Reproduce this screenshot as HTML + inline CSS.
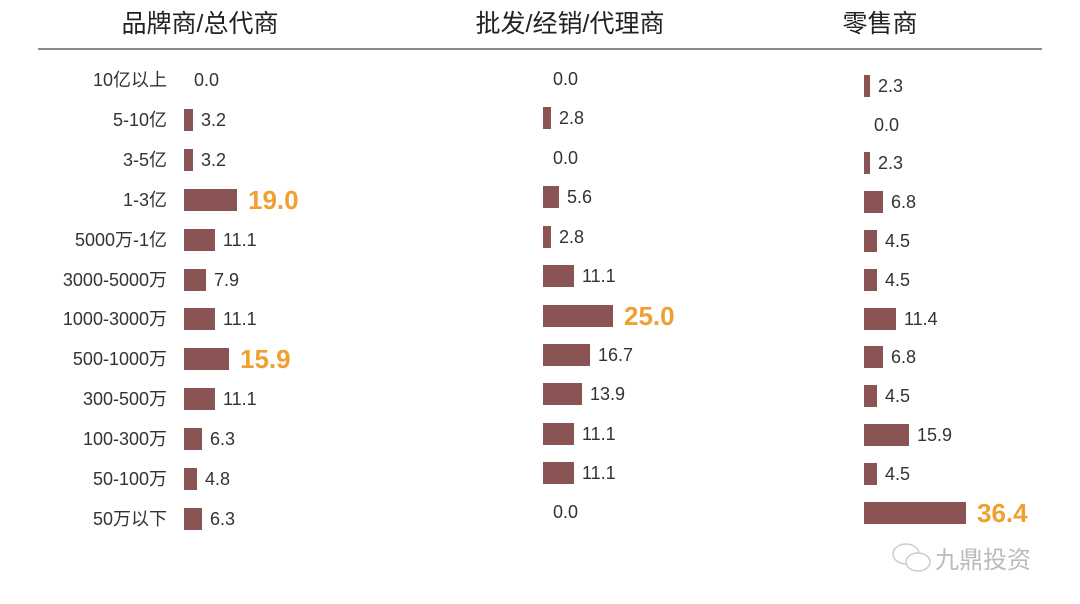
<!DOCTYPE html>
<html><head><meta charset="utf-8"><style>
body{margin:0;width:1080px;height:604px;background:#fff;position:relative;overflow:hidden;font-family:"Liberation Sans","Noto Sans CJK SC",sans-serif;color:#333}
.t{position:absolute;top:4px;font-size:25px;color:#222;transform:translateX(-50%);white-space:nowrap}
.line{position:absolute;left:38px;width:1004px;top:48px;height:2px;background:#8a8a8a}
.c{position:absolute;right:913px;font-size:18px;line-height:22px;white-space:nowrap;color:#333}
.r{position:absolute;height:22px;display:flex;align-items:center;font-size:18px;white-space:nowrap}
.r i{display:block;height:22px;background:#8b5454;margin-right:8px}
.r i.z{width:0;margin-right:10px}
.r b{font-size:26px;color:#f0a030;font-weight:bold;margin-left:3px}
.wm{position:absolute;left:935px;top:540px;font-size:24px;color:#bbb}
</style></head><body>
<div class="t" style="left:200px">品牌商/总代商</div>
<div class="t" style="left:570px">批发/经销/代理商</div>
<div class="t" style="left:880px">零售商</div>
<div class="line"></div>

<div class="c" style="top:69px">10亿以上</div>
<div class="c" style="top:109px">5-10亿</div>
<div class="c" style="top:149px">3-5亿</div>
<div class="c" style="top:189px">1-3亿</div>
<div class="c" style="top:229px">5000万-1亿</div>
<div class="c" style="top:269px">3000-5000万</div>
<div class="c" style="top:308px">1000-3000万</div>
<div class="c" style="top:348px">500-1000万</div>
<div class="c" style="top:388px">300-500万</div>
<div class="c" style="top:428px">100-300万</div>
<div class="c" style="top:468px">50-100万</div>
<div class="c" style="top:508px">50万以下</div>

<!-- left -->
<div class="r" style="left:184px;top:69px"><i class="z"></i>0.0</div>
<div class="r" style="left:184px;top:109px"><i style="width:9px"></i>3.2</div>
<div class="r" style="left:184px;top:149px"><i style="width:9px"></i>3.2</div>
<div class="r" style="left:184px;top:189px"><i style="width:53px"></i><b>19.0</b></div>
<div class="r" style="left:184px;top:229px"><i style="width:31px"></i>11.1</div>
<div class="r" style="left:184px;top:269px"><i style="width:22px"></i>7.9</div>
<div class="r" style="left:184px;top:308px"><i style="width:31px"></i>11.1</div>
<div class="r" style="left:184px;top:348px"><i style="width:45px"></i><b>15.9</b></div>
<div class="r" style="left:184px;top:388px"><i style="width:31px"></i>11.1</div>
<div class="r" style="left:184px;top:428px"><i style="width:18px"></i>6.3</div>
<div class="r" style="left:184px;top:468px"><i style="width:13px"></i>4.8</div>
<div class="r" style="left:184px;top:508px"><i style="width:18px"></i>6.3</div>

<!-- middle -->
<div class="r" style="left:543px;top:68px"><i class="z"></i>0.0</div>
<div class="r" style="left:543px;top:107px"><i style="width:8px"></i>2.8</div>
<div class="r" style="left:543px;top:147px"><i class="z"></i>0.0</div>
<div class="r" style="left:543px;top:186px"><i style="width:16px"></i>5.6</div>
<div class="r" style="left:543px;top:226px"><i style="width:8px"></i>2.8</div>
<div class="r" style="left:543px;top:265px"><i style="width:31px"></i>11.1</div>
<div class="r" style="left:543px;top:305px"><i style="width:70px"></i><b>25.0</b></div>
<div class="r" style="left:543px;top:344px"><i style="width:47px"></i>16.7</div>
<div class="r" style="left:543px;top:383px"><i style="width:39px"></i>13.9</div>
<div class="r" style="left:543px;top:423px"><i style="width:31px"></i>11.1</div>
<div class="r" style="left:543px;top:462px"><i style="width:31px"></i>11.1</div>
<div class="r" style="left:543px;top:501px"><i class="z"></i>0.0</div>

<!-- right -->
<div class="r" style="left:864px;top:75px"><i style="width:6px"></i>2.3</div>
<div class="r" style="left:864px;top:114px"><i class="z"></i>0.0</div>
<div class="r" style="left:864px;top:152px"><i style="width:6px"></i>2.3</div>
<div class="r" style="left:864px;top:191px"><i style="width:19px"></i>6.8</div>
<div class="r" style="left:864px;top:230px"><i style="width:13px"></i>4.5</div>
<div class="r" style="left:864px;top:269px"><i style="width:13px"></i>4.5</div>
<div class="r" style="left:864px;top:308px"><i style="width:32px"></i>11.4</div>
<div class="r" style="left:864px;top:346px"><i style="width:19px"></i>6.8</div>
<div class="r" style="left:864px;top:385px"><i style="width:13px"></i>4.5</div>
<div class="r" style="left:864px;top:424px"><i style="width:45px"></i>15.9</div>
<div class="r" style="left:864px;top:463px"><i style="width:13px"></i>4.5</div>
<div class="r" style="left:864px;top:502px"><i style="width:102px"></i><b>36.4</b></div>

<div class="wm">九鼎投资</div>
<svg style="position:absolute;left:890px;top:540px" width="44" height="36"><ellipse cx="16" cy="14" rx="13" ry="10" fill="none" stroke="#ccc" stroke-width="1.5"/><ellipse cx="28" cy="22" rx="12" ry="9" fill="#fff" stroke="#ccc" stroke-width="1.5"/></svg>
</body></html>
